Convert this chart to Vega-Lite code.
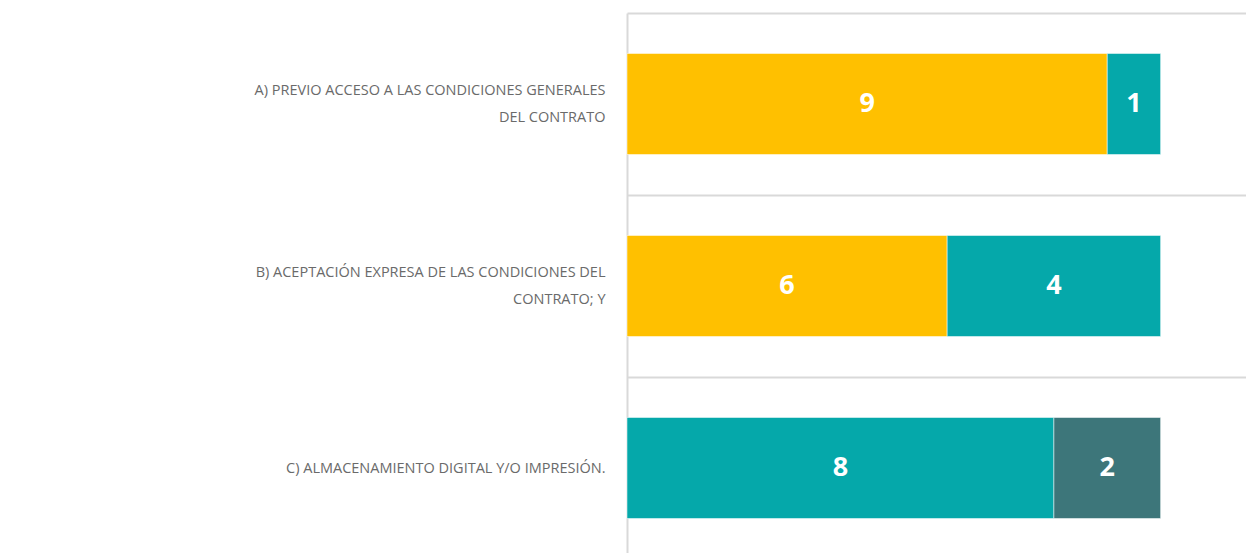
{
  "$schema": "https://vega.github.io/schema/vega-lite/v6.json",
  "width": 619,
  "height": 540,
  "autosize": {"type": "none"},
  "padding": {"left": 627, "top": 13, "right": 0, "bottom": 0},
  "background": "white",
  "config": {"view": {"stroke": null}},
  "data": {
    "values": [
      {"categoria": "A) PREVIO ACCESO A LAS CONDICIONES GENERALES DEL CONTRATO", "serie": "s1", "valor": 9},
      {"categoria": "A) PREVIO ACCESO A LAS CONDICIONES GENERALES DEL CONTRATO", "serie": "s2", "valor": 1},
      {"categoria": "B) ACEPTACIÓN EXPRESA DE LAS CONDICIONES DEL CONTRATO; Y", "serie": "s1", "valor": 6},
      {"categoria": "B) ACEPTACIÓN EXPRESA DE LAS CONDICIONES DEL CONTRATO; Y", "serie": "s2", "valor": 4},
      {"categoria": "C) ALMACENAMIENTO DIGITAL Y/O IMPRESIÓN.", "serie": "s2", "valor": 8},
      {"categoria": "C) ALMACENAMIENTO DIGITAL Y/O IMPRESIÓN.", "serie": "s3", "valor": 2}
    ]
  },
  "transform": [
    {"stack": "valor", "groupby": ["categoria"], "sort": [{"field": "serie", "order": "ascending"}], "as": ["x0", "x1"]},
    {"calculate": "(datum.x0 + datum.x1) / 2", "as": "mid"}
  ],
  "encoding": {
    "y": {
      "field": "categoria",
      "type": "nominal",
      "sort": null,
      "scale": {"paddingInner": 0.445, "paddingOuter": 0.2225, "range": [0, 546]},
      "axis": {
        "title": null,
        "ticks": false,
        "domain": true,
        "domainColor": "#d9d9d9",
        "domainWidth": 2,
        "grid": true,
        "gridColor": "#d9d9d9",
        "gridWidth": 2,
        "tickOffset": -91,
        "labelOffset": {"condition": {"test": "datum.value == 'C) ALMACENAMIENTO DIGITAL Y/O IMPRESIÓN.'", "value": 91}, "value": 77.5},
        "labelFont": "Open Sans",
        "labelFontSize": 14.5,
        "labelColor": "#6a6a6a",
        "labelPadding": 22,
        "labelLineHeight": 27,
        "labelAlign": "right",
        "labelLimit": 700,
        "labelExpr": "datum.label == 'A) PREVIO ACCESO A LAS CONDICIONES GENERALES DEL CONTRATO' ? ['A) PREVIO ACCESO A LAS CONDICIONES GENERALES', 'DEL CONTRATO'] : datum.label == 'B) ACEPTACIÓN EXPRESA DE LAS CONDICIONES DEL CONTRATO; Y' ? ['B) ACEPTACIÓN EXPRESA DE LAS CONDICIONES DEL', 'CONTRATO; Y'] : datum.label"
      }
    }
  },
  "layer": [
    {
      "mark": {"type": "bar", "stroke": "white", "strokeWidth": 1, "strokeOpacity": 0.5},
      "encoding": {
        "x": {"field": "x0", "type": "quantitative", "scale": {"domain": [0, 11.6], "nice": false}, "axis": null},
        "x2": {"field": "x1"},
        "color": {
          "field": "serie",
          "type": "nominal",
          "scale": {"domain": ["s1", "s2", "s3"], "range": ["#FFC000", "#05A8AA", "#3D767A"]},
          "legend": null
        }
      }
    },
    {
      "mark": {"type": "text", "color": "white", "font": "Open Sans", "fontWeight": "bold", "fontSize": 27, "baseline": "middle", "align": "center"},
      "encoding": {
        "x": {"field": "mid", "type": "quantitative"},
        "text": {"field": "valor", "type": "quantitative"}
      }
    }
  ]
}
